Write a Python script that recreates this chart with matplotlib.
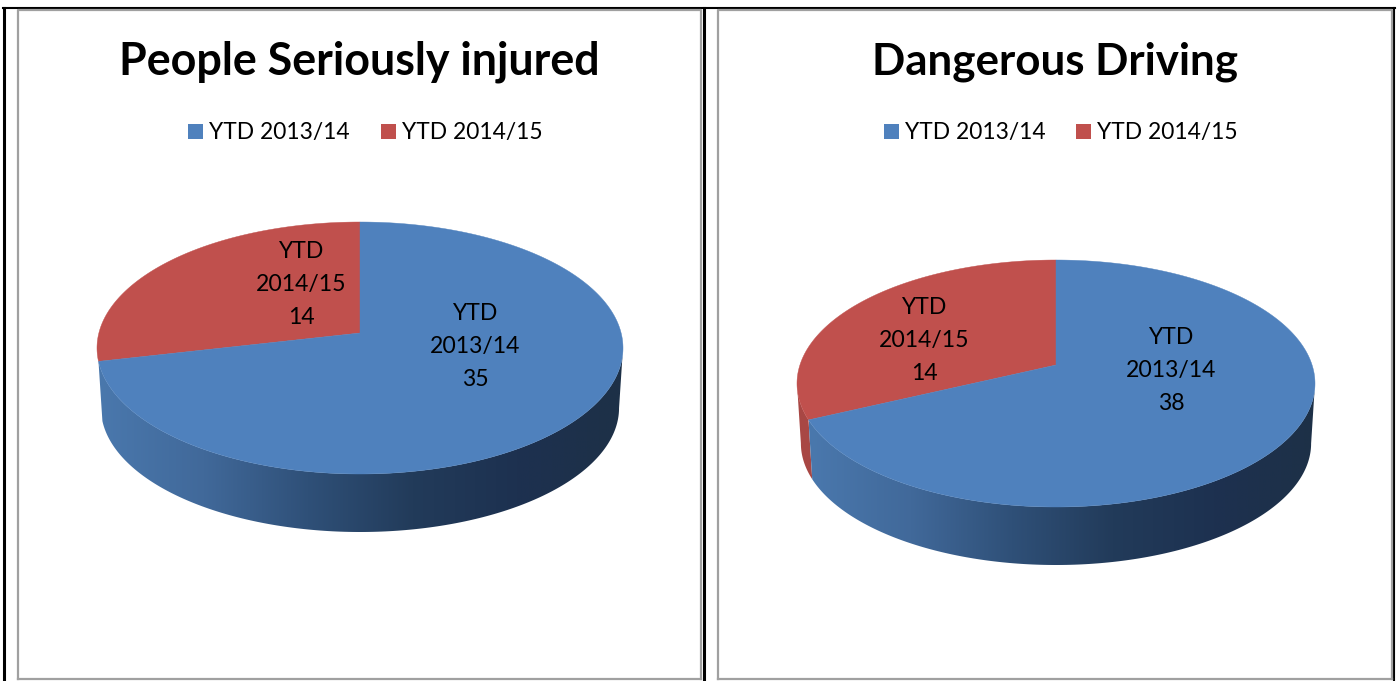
import numpy as np
import matplotlib
matplotlib.use('Agg')
import matplotlib.pyplot as plt
from matplotlib.patches import Polygon, Rectangle
from matplotlib.colors import LinearSegmentedColormap

plt.rcParams['font.family'] = ['Lato', 'DejaVu Sans']

titles = ['People Seriously injured', 'Dangerous Driving']
categories = ['YTD 2013/14', 'YTD 2014/15']
label_values = [[35, 14], [38, 14]]
# share of the red slice as it is drawn (second chart shows more than 14/52)
red_shares = [14 / 49, 0.32]

BLUE = '#4f81bd'
RED = '#c0504d'
RED_WALL = '#a84744'
GREY = '#a0a0a0'

blue_wall = LinearSegmentedColormap.from_list('wall', ['#4a78ad', '#41699a', '#2f5078', '#223b5a', '#1d3150', '#1d3047'])

fig = plt.figure(figsize=(13.97, 6.81), dpi=100)
ax = fig.add_axes([0, 0, 1, 1])
ax.set_xlim(0, 1397)
ax.set_ylim(681, 0)
ax.axis('off')


def rim(pie, phi, scale=1.0, drop=0.0):
    # phi in degrees, counter clockwise from 12 o'clock, with a bit of perspective
    cx, vy, half_w, front, back = pie
    k = (back - front) / (back + front)
    a = front * (1 + k)
    b = half_w * np.sqrt(1 - k * k)
    p = np.radians(phi)
    X = -np.sin(p)
    Z = -np.cos(p)
    d = 1 + k * Z
    return cx + scale * b * X / d, vy + drop + scale * a * Z / d, k


def draw_pie(pie, depth, share):
    cx, vy, half_w, front, back = pie
    red_end = 360 * share
    k = (back - front) / (back + front)
    sil = np.degrees(np.arccos(k))
    scale = 0.985
    drop = front + depth - scale * front

    # side wall
    def wall(p1, p2):
        phi = np.linspace(p1, p2, 200)
        x1, y1, _ = rim(pie, phi)
        x2, y2, _ = rim(pie, phi[::-1], scale, drop)
        return np.r_[x1, x2], np.r_[y1, y2]

    # thin slivers of red wall do not show in the reference
    if red_end > sil + 10:
        xs, ys = wall(sil, red_end)
        ax.add_patch(Polygon(np.c_[xs, ys], fc=RED_WALL, ec='none', zorder=2))

    xs, ys = wall(max(sil, red_end), 360 - sil)
    clip = Polygon(np.c_[xs, ys], fc='none', ec='none', transform=ax.transData)
    ax.add_patch(clip)
    grad = np.linspace(0, 1, 256).reshape(1, -1)
    im = ax.imshow(grad, cmap=blue_wall, extent=[xs.min(), xs.max(), ys.max(), ys.min()],
                   aspect='auto', zorder=2)
    im.set_clip_path(clip)

    # top face
    phi = np.linspace(0, red_end, 200)
    x, y, _ = rim(pie, phi)
    ax.add_patch(Polygon(np.c_[np.r_[cx, x], np.r_[vy, y]], fc=RED, ec=RED, lw=0.3, zorder=3))
    phi = np.linspace(red_end, 360, 400)
    x, y, _ = rim(pie, phi)
    ax.add_patch(Polygon(np.c_[np.r_[cx, x], np.r_[vy, y]], fc=BLUE, ec=BLUE, lw=0.3, zorder=3))


def draw_legend(x1, x2, y):
    ax.add_patch(Rectangle((x1, y - 7.5), 15, 15, fc=BLUE, ec='none', zorder=4))
    ax.text(x1 + 21, y + 1.5, categories[0], fontsize=16.4, va='center', ha='left', color='black')
    ax.add_patch(Rectangle((x2, y - 7.5), 15, 15, fc=RED, ec='none', zorder=4))
    ax.text(x2 + 21, y + 1.5, categories[1], fontsize=16.4, va='center', ha='left', color='black')


def draw_label(x, y, cat, value):
    year = cat.split()[1]
    for i, line in enumerate(['YTD', year, str(value)]):
        ax.text(x, y + i * 33, line, fontsize=16.6, ha='center', va='center', color='black', zorder=5)


# (centre x, vertex y, half width, front, back)
pies = [(360, 333, 263, 141, 111), (1056, 365, 259, 142, 105)]
depths = [58, 58]
title_x = [359, 1055]
title_y = [62, 62]
title_size = [32.3, 31.6]
legend_x = [(188, 381), (884, 1076)]
label_pos = [((475, 314), (301, 252)), ((1171, 338), (924, 307))]

# page frame lines
for x in [3.5, 704]:
    ax.plot([x, x], [8, 681], color='black', lw=2.2, zorder=1)
ax.plot([3, 1394.5], [7.8, 7.8], color='black', lw=1.5, zorder=1)
ax.plot([1393.6, 1393.6], [8, 681], color='black', lw=1.5, zorder=1)

# chart borders
for x1, x2 in [(18, 701), (718, 1391.5)]:
    ax.plot([x1, x1, x2, x2], [679, 9.8, 9.8, 679], color=GREY, lw=1.6, zorder=1)
    ax.plot([x1, x2], [679, 679], color=GREY, lw=1.6, zorder=1)

for i in range(2):
    draw_pie(pies[i], depths[i], red_shares[i])
    ax.text(title_x[i], title_y[i], titles[i], fontsize=title_size[i], fontweight='bold',
            ha='center', va='center', color='black')
    draw_legend(legend_x[i][0], legend_x[i][1], 131)
    draw_label(label_pos[i][0][0], label_pos[i][0][1], categories[0], label_values[i][0])
    draw_label(label_pos[i][1][0], label_pos[i][1][1], categories[1], label_values[i][1])

ax.set_xlim(0, 1397)
ax.set_ylim(681, 0)
fig.savefig('out.png', dpi=100)
